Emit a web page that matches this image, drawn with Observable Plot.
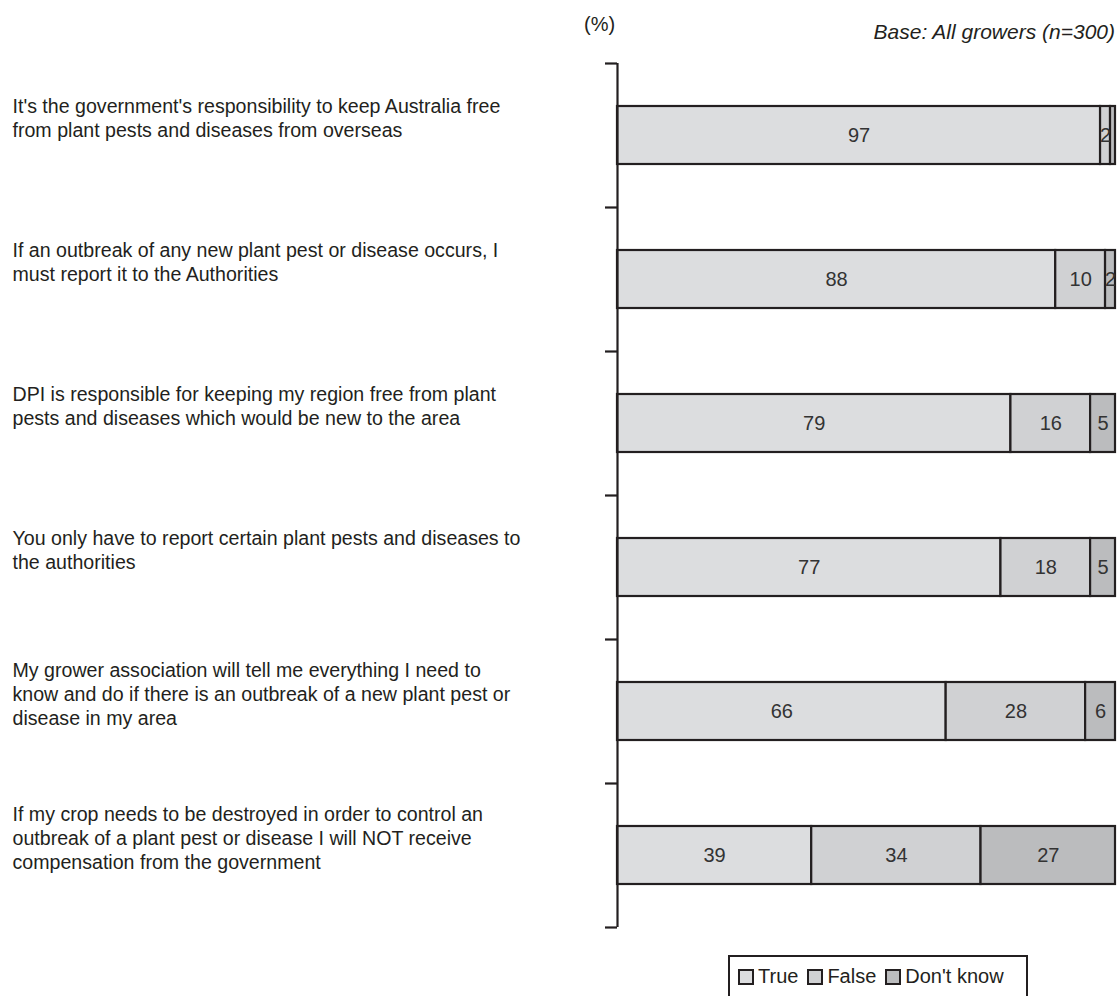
<!DOCTYPE html>
<html>
<head>
<meta charset="utf-8">
<script src="https://cdn.jsdelivr.net/npm/d3@7"></script>
<script src="https://cdn.jsdelivr.net/npm/@observablehq/plot@0.6"></script>
<style>
  html, body { margin: 0; padding: 0; background: #fff; }
  body { font-family: "Liberation Sans Narrow", "Arial Narrow", "Liberation Sans", sans-serif; color: #231f20; }
  #wrap { position: relative; width: 1117px; height: 996px; overflow: hidden; }
  #chart { position: absolute; left: 0; top: 0; }
  .unit { position: absolute; left: 584px; top: 13px; font-size: 20px; }
  .base { position: absolute; right: 2px; top: 20px; font-size: 21px; font-style: italic; }
  .legend { position: absolute; left: 728px; top: 955px; width: 300px; height: 60px;
            border: 2px solid #231f20; box-sizing: border-box; font-size: 20px; }
  .legend .items { display: flex; align-items: center; gap: 9px; padding: 8px 0 0 8px; }
  .legend .item { display: flex; align-items: center; gap: 4px; }
  .legend .sw { width: 12px; height: 12px; border: 2px solid #231f20; }
</style>
</head>
<body>
<div id="wrap">
  <div id="chart"></div>
  <div class="unit">(%)</div>
  <div class="base">Base: All growers (n=300)</div>
  <div class="legend"><div class="items" id="legend"></div></div>
</div>
<script>
const statements = [
  "It's the government's responsibility to keep Australia free\nfrom plant pests and diseases from overseas",
  "If an outbreak of any new plant pest or disease occurs, I\nmust report it to the Authorities",
  "DPI is responsible for keeping my region free from plant\npests and diseases which would be new to the area",
  "You only have to report certain plant pests and diseases to\nthe authorities",
  "My grower association will tell me everything I need to\nknow and do if there is an outbreak of a new plant pest or\ndisease in my area",
  "If my crop needs to be destroyed in order to control an\noutbreak of a plant pest or disease I will NOT receive\ncompensation from the government"
];
const seriesNames = ["True", "False", "Don't know"];
const trueValues = [97, 88, 79, 77, 66, 39];
const falseValues = [2, 10, 16, 18, 28, 34];
const dontKnowValues = [1, 2, 5, 5, 6, 27];
const seriesColors = ["#dcdddf", "#d0d1d3", "#bbbcbe"];

const seriesValues = [trueValues, falseValues, dontKnowValues];
const rows = [];
statements.forEach((s, i) => {
  seriesNames.forEach((name, j) => {
    rows.push({statement: s, series: name, value: seriesValues[j][i]});
  });
});

const ink = "#231f20";
const step = 144;

const chart = Plot.plot({
  width: 1117,
  height: 950,
  marginLeft: 617,
  marginRight: 2,
  marginTop: 63,
  marginBottom: 23,
  style: {fontFamily: '"Liberation Sans Narrow", "Arial Narrow", "Liberation Sans", sans-serif', color: ink, background: "transparent"},
  x: {domain: [0, 100], axis: null},
  y: {domain: statements, paddingInner: 0.6, paddingOuter: 0.3, axis: null},
  color: {domain: seriesNames, range: seriesColors},
  marks: [
    Plot.barX(rows, Plot.stackX({
      y: "statement", x: "value", fill: "series", z: "series", order: seriesNames,
      stroke: ink, strokeWidth: 2.2
    })),
    Plot.text(rows, Plot.stackX({
      y: "statement", x: "value", z: "series", order: seriesNames,
      text: d => d.value >= 2 ? String(d.value) : "",
      fontSize: 20, fill: "#333"
    })),
    Plot.text(statements, {
      y: d => d, text: d => d, frameAnchor: "left", textAnchor: "start",
      dx: -605, dy: -18, lineHeight: 1.22, fontSize: 19.6, fill: ink
    }),
    Plot.ruleX([0], {stroke: ink, strokeWidth: 2.2}),
    Plot.axisY(statements, {tickSize: 12, tickFormat: () => "", label: null, dy: -step / 2, stroke: ink, strokeWidth: 2.2}),
    Plot.axisY([statements[statements.length - 1]], {tickSize: 12, tickFormat: () => "", label: null, dy: step / 2, stroke: ink, strokeWidth: 2.2})
  ]
});
document.getElementById("chart").appendChild(chart);

const legend = document.getElementById("legend");
seriesNames.forEach((name, i) => {
  const item = document.createElement("div");
  item.className = "item";
  const sw = document.createElement("div");
  sw.className = "sw";
  sw.style.background = seriesColors[i];
  const label = document.createElement("span");
  label.textContent = name;
  item.appendChild(sw);
  item.appendChild(label);
  legend.appendChild(item);
});
</script>
</body>
</html>
